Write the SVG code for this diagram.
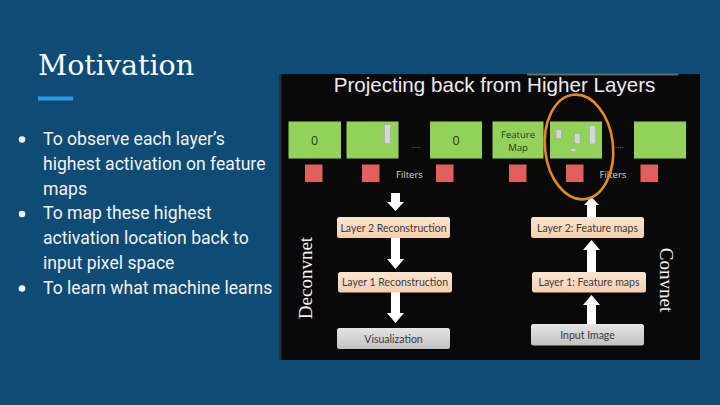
<svg xmlns="http://www.w3.org/2000/svg" width="720" height="405" viewBox="0 0 720 405">
  <defs>
    <linearGradient id="peach" x1="0" y1="0" x2="0" y2="1">
      <stop offset="0" stop-color="#fde6d0"/>
      <stop offset="1" stop-color="#f4cfae"/>
    </linearGradient>
    <linearGradient id="grey" x1="0" y1="0" x2="0" y2="1">
      <stop offset="0" stop-color="#e4e4e4"/>
      <stop offset="1" stop-color="#c2c2c2"/>
    </linearGradient>
    <style>
      .bullet { font-family: Roboto, "Liberation Sans", sans-serif; font-size: 17.6px; fill: #f2f2f2; }
      .dot { fill: #f2f2f2; }
      .green { fill: #92d25a; }
      .red { fill: #e0605b; }
      .bar { fill: #d6d6d6; stroke: #a8a8a8; stroke-width: 0.6; }
      .gtxt { font-family: "Open Sans", "Liberation Sans", sans-serif; fill: #2b3a1c; text-anchor: middle; }
      .small { font-family: "Open Sans", "Liberation Sans", sans-serif; font-size: 9.5px; fill: #d8d8d8; }
      .peach { fill: url(#peach); }
      .greyb { fill: url(#grey); }
      .btxt { font-family: Lato, "Liberation Sans", sans-serif; font-size: 10.5px; fill: #3a3a3a; text-anchor: middle; }
      .side { font-family: "Liberation Serif", serif; font-size: 19px; fill: #f4f4f4; text-anchor: middle; }
      .arrow { fill: #ffffff; }
    </style>
  </defs>

  <rect x="0" y="0" width="720" height="405" fill="#0f4c75"/>

  <g id="title">
    <text x="38" y="75" font-family="'DejaVu Serif', 'Liberation Serif', serif" font-size="28.5" fill="#ffffff">Motivation</text>
    <rect x="38" y="96.5" width="35" height="4" fill="#2f98e0"/>
  </g>

  <g id="bullets">
    <circle class="dot" cx="22" cy="139.5" r="3.3"/>
    <circle class="dot" cx="22" cy="214" r="3.3"/>
    <circle class="dot" cx="22" cy="288.5" r="3.3"/>
    <text class="bullet" x="43" y="145">To observe each layer’s</text>
    <text class="bullet" x="43" y="169.8">highest activation on feature</text>
    <text class="bullet" x="43" y="194.6">maps</text>
    <text class="bullet" x="43" y="219.4">To map these highest</text>
    <text class="bullet" x="43" y="244.2">activation location back to</text>
    <text class="bullet" x="43" y="269">input pixel space</text>
    <text class="bullet" x="43" y="293.8">To learn what machine learns</text>
  </g>

  <g id="picture">
    <rect x="279" y="74" width="3" height="286" fill="#1b3042"/>
    <rect x="281.5" y="74" width="418.5" height="286" fill="#0a0909"/>
    <rect x="527" y="73.5" width="151" height="2" fill="#6a6a6a"/>
    <text x="494.5" y="91.5" font-family="'Liberation Sans', Arial, sans-serif" font-size="20.6" fill="#ececec" text-anchor="middle">Projecting back from Higher Layers</text>
  </g>

  <g id="map1">
    <rect class="green" x="288.5" y="121.5" width="52.5" height="37"/>
    <text class="gtxt" x="314.7" y="144.5" font-size="12.5">0</text>
  </g>
  <g id="map2">
    <rect class="green" x="346.5" y="121.5" width="52" height="37"/>
    <rect class="bar" x="384.5" y="124.5" width="6" height="19"/>
  </g>
  <g id="map3">
    <rect class="green" x="430" y="121.5" width="52" height="37"/>
    <text class="gtxt" x="456" y="144.5" font-size="12.5">0</text>
  </g>
  <g id="map4">
    <rect class="green" x="492.5" y="121.5" width="51" height="37"/>
    <text class="gtxt" x="518" y="137.5" font-size="9.5" fill="#3d4a2e">Feature</text>
    <text class="gtxt" x="518" y="151" font-size="9.5" fill="#3d4a2e">Map</text>
  </g>
  <g id="map5">
    <rect class="green" x="550" y="121.5" width="52" height="37"/>
    <rect class="bar" x="556" y="129.5" width="5.5" height="9"/>
    <rect class="bar" x="574.5" y="133.5" width="5.5" height="10"/>
    <rect class="bar" x="589.5" y="125.5" width="6" height="18.5"/>
    <rect class="bar" x="570.5" y="148.5" width="5.5" height="3"/>
  </g>
  <g id="map6">
    <rect class="green" x="634" y="121.5" width="52" height="37"/>
  </g>

  <g id="filters">
    <rect class="red" x="305" y="164.5" width="17.5" height="17.5"/>
    <rect class="red" x="362" y="164.5" width="17.5" height="17.5"/>
    <rect class="red" x="436" y="164.5" width="17.5" height="17.5"/>
    <rect class="red" x="509" y="164.5" width="17.5" height="17.5"/>
    <rect class="red" x="566" y="164.5" width="17.5" height="17.5"/>
    <rect class="red" x="640.5" y="164.5" width="17.5" height="17.5"/>
    <text class="small" x="396" y="177.5">Filters</text>
    <text class="small" x="599.5" y="177.5">Filters</text>
    <text x="411.5" y="148" font-family="'Liberation Sans', sans-serif" font-size="8" fill="#a0a0a0">....</text>
    <text x="615" y="148" font-family="'Liberation Sans', sans-serif" font-size="8" fill="#a0a0a0">....</text>
  </g>

  <g id="connectors">
    <polygon class="arrow" points="391,193 400,193 400,202 404,202 395.5,211 387,202 391,202"/>
    <polygon class="arrow" points="391,238 400,238 400,259 404,259 395.5,269 387,259 391,259"/>
    <polygon class="arrow" points="391,292 400,292 400,313 404,313 395.5,323 387,313 391,313"/>
    <polygon class="arrow" points="587,324 596,324 596,305 600,305 591.5,295 583,305 587,305"/>
    <polygon class="arrow" points="587,272 596,272 596,250 600,250 591.5,240 583,250 587,250"/>
    <polygon class="arrow" points="587,217 596,217 596,205 599,205 591.5,197 584,205 587,205"/>
  </g>

  <g id="layer2-reconstruction">
    <rect class="peach" x="337" y="217" width="113" height="21" rx="2.5"/>
    <text class="btxt" x="393.5" y="231.5">Layer 2 Reconstruction</text>
  </g>
  <g id="layer1-reconstruction">
    <rect class="peach" x="338" y="272" width="114" height="20.5" rx="2.5"/>
    <text class="btxt" x="395" y="286">Layer 1 Reconstruction</text>
  </g>
  <g id="visualization">
    <rect class="greyb" x="337" y="328" width="113" height="21" rx="2.5"/>
    <text class="btxt" x="393.5" y="342.5">Visualization</text>
  </g>
  <g id="layer2-feature-maps">
    <rect class="peach" x="531" y="217" width="113" height="21" rx="2.5"/>
    <text class="btxt" x="587.5" y="231.5">Layer 2: Feature maps</text>
  </g>
  <g id="layer1-feature-maps">
    <rect class="peach" x="532" y="272" width="114" height="20.5" rx="2.5"/>
    <text class="btxt" x="589" y="286">Layer 1: Feature maps</text>
  </g>
  <g id="input-image">
    <rect class="greyb" x="531" y="324" width="113" height="21.5" rx="2.5"/>
    <text class="btxt" x="587.5" y="338.5">Input Image</text>
  </g>

  <g id="deconvnet-label">
    <text class="side" x="312" y="278" transform="rotate(-90 312 278)">Deconvnet</text>
  </g>
  <g id="convnet-label">
    <text class="side" x="660" y="280" transform="rotate(90 660 280)">Convnet</text>
  </g>

  <g id="highlight">
    <ellipse cx="579" cy="147" rx="34" ry="52.5" transform="rotate(-6 579 147)" fill="none" stroke="#e0892c" stroke-width="2.6"/>
  </g>
</svg>
